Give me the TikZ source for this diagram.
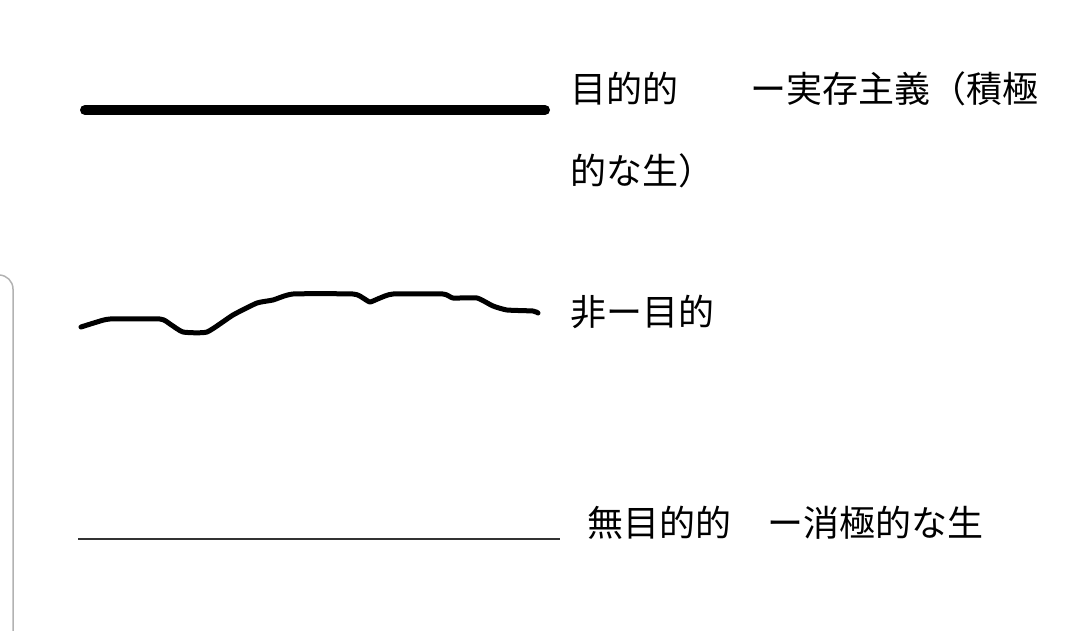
\documentclass[tikz,border=0pt]{standalone}
\usepackage{fontspec}
\setmainfont{Noto Sans CJK JP}
\usepackage{tikz}
\usetikzlibrary{calc,positioning}

\begin{document}
\begin{tikzpicture}[x=1pt,y=-1pt,
  beschriftung/.style={anchor=west,inner sep=0pt,align=left,font={\fontsize{36}{82}\selectfont}}]
%Rahmen fest auf 1080x630
  \useasboundingbox (0,0) rectangle (1080,630);
  \pgfmathsetmacro{\xLinks}{80}
  \pgfmathsetmacro{\yOben}{110}
  \pgfmathsetmacro{\yUnten}{539}
%grauer Rand links
\draw[black!30,line width=1.5pt,rounded corners=14pt] (-10,275) -- (13,275) -- (13,640);
%dicke Linie
\draw[black,line width=10pt,line cap=round] (\xLinks+5,\yOben) coordinate (dickA) -- (545,\yOben) coordinate (dickB);
%zweizeilig: base west sitzt auf der Grundlinie der letzten Zeile
\node[beschriftung,anchor=base west] (zweck) at (570,184) {目的的　　ー実存主義（積極\\的な生）};
%krumme Linie, von Hand nachgezogen
\draw[black,line width=5pt,line cap=round,line join=round] plot[smooth,tension=0.3] coordinates {
  (81,327) (97,322) (110,319) (160,319) (170,324) (183,332) (207,332) (233,315)
  (257,303) (273,300) (293,294) (353,294) (363,298) (370,302) (380,298) (393,294)
  (443,294) (453,298) (477,298) (493,306) (507,310) (533,311) (538,313)};
\node[beschriftung] (nichtzweck) at (570,312) {非ー目的};
%duenne Linie
\draw[black!80,line width=2.5pt] (\xLinks-2,\yUnten) coordinate (duennA) -- (560,\yUnten) coordinate (duennB);
\node[beschriftung] (ohnezweck) at (587,523) {無目的的　ー消極的な生};
\end{tikzpicture}
\end{document}
